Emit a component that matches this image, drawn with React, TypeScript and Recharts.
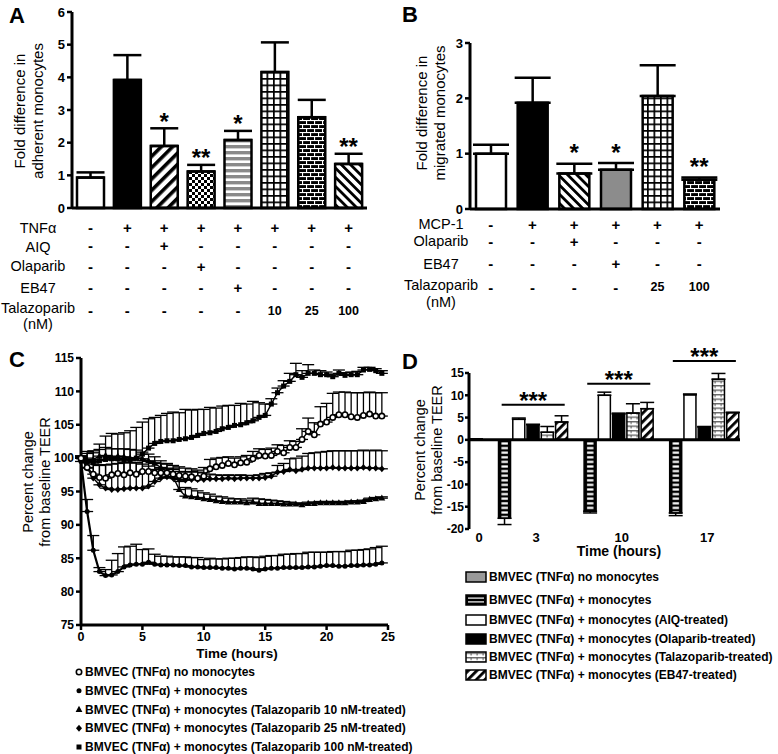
import React from "react";
import {
  ComposedChart,
  LineChart,
  Bar,
  Line,
  XAxis,
  YAxis,
  ErrorBar,
  Cell,
  ReferenceLine,
} from "recharts";

const FONT = "'Liberation Sans', Arial, Helvetica, sans-serif";

// ---------- A: adherent monocytes ----------
const idsA = ["a1", "a2", "a3", "a4", "a5", "a6", "a7", "a8"];
const meanA = [0.93, 3.92, 1.9, 1.12, 2.08, 4.16, 2.78, 1.35];
const semA = [0.16, 0.76, 0.54, 0.2, 0.28, 0.91, 0.53, 0.31];
const sigA = ["", "", "*", "**", "*", "", "", "**"];
const tnfA = ["-", "+", "+", "+", "+", "+", "+", "+"];
const aiqA = ["-", "-", "+", "-", "-", "-", "-", "-"];
const olaA = ["-", "-", "-", "+", "-", "-", "-", "-"];
const eb47A = ["-", "-", "-", "-", "+", "-", "-", "-"];
const talaA = ["-", "-", "-", "-", "-", "10", "25", "100"];
const rowNamesA = ["TNFα", "AIQ", "Olaparib", "EB47", "Talazoparib"];

// ---------- B: migrated monocytes ----------
const idsB = ["b1", "b2", "b3", "b4", "b5", "b6"];
const meanB = [1.0, 1.92, 0.64, 0.71, 2.04, 0.53];
const semB = [0.16, 0.45, 0.18, 0.12, 0.56, 0.04];
const sigB = ["", "", "*", "*", "", "**"];
const mcpB = ["-", "+", "+", "+", "+", "+"];
const olaB = ["-", "-", "+", "-", "-", "-"];
const eb47B = ["-", "-", "-", "+", "-", "-"];
const talaB = ["-", "-", "-", "-", "25", "100"];
const rowNamesB = ["MCP-1", "Olaparib", "EB47", "Talazoparib"];

// ---------- C: TEER time course ----------
const hoursC = [
  0, 0.5, 1, 1.5, 2, 2.5, 3, 3.5, 4, 4.5,
  5, 5.5, 6, 6.5, 7, 7.5, 8, 8.5, 9, 9.5,
  10, 10.5, 11, 11.5, 12, 12.5, 13, 13.5, 14, 14.5,
  15, 15.5, 16, 16.5, 17, 17.5, 18, 18.5, 19, 19.5,
  20, 20.5, 21, 21.5, 22, 22.5, 23, 23.5, 24, 24.5,
];
const noMonoC = [
  100.0, 98.6, 97.6, 97.1, 97.0, 97.5, 97.7, 97.5, 97.8, 97.6,
  98.0, 98.0, 97.8, 97.8, 97.8, 97.6, 97.4, 97.3, 97.2, 97.0,
  97.3, 98.4, 98.7, 98.9, 99.2, 99.0, 99.3, 99.4, 99.9, 100.4,
  100.3, 100.4, 101.0, 100.8, 101.6, 101.6, 102.8, 104.0, 103.5, 105.1,
  105.4, 106.1, 106.5, 106.5, 106.2, 106.1, 106.4, 106.6, 106.3, 106.3,
];
const noMonoSemC = [
  0.3, 1.0, 1.5, 1.8, 2.0, 2.2, 2.0, 1.8, 1.8, 1.7,
  1.6, 1.5, 1.5, 1.4, 1.4, 1.3, 1.3, 1.2, 1.2, 1.2,
  1.3, 1.4, 1.3, 1.2, 1.0, 1.0, 0.9, 1.0, 1.1, 1.0,
  1.0, 1.1, 1.0, 1.1, 1.0, 0.9, 1.6, 2.0, 1.8, 2.6,
  2.8, 3.6, 3.4, 3.4, 3.6, 3.7, 3.4, 3.3, 3.5, 3.5,
];
const plusMonoC = [
  99.5, 92.0, 86.2, 83.0, 82.4, 82.5, 83.0, 83.7, 84.0, 84.1,
  84.1, 84.4, 84.1, 84.0, 84.0, 84.0, 83.9, 83.9, 83.7, 83.7,
  83.6, 83.6, 83.6, 83.5, 83.5, 83.4, 83.5, 83.5, 83.4, 83.2,
  83.4, 83.5, 83.5, 83.6, 83.6, 83.6, 83.6, 83.7, 83.7, 83.8,
  83.9, 83.9, 83.8, 83.8, 83.9, 83.9, 84.0, 84.0, 84.1, 84.3,
];
const plusMonoSemC = [
  0.5, 1.8, 2.2, 0.6, 0.9, 2.2, 2.7, 3.0, 2.8, 3.0,
  2.2, 2.0, 1.5, 1.3, 1.3, 1.2, 1.3, 1.3, 1.4, 1.4,
  1.2, 1.4, 1.3, 1.4, 1.5, 1.6, 1.6, 1.7, 1.8, 1.9,
  1.9, 1.9, 1.9, 2.0, 2.0, 2.1, 2.1, 2.2, 2.2, 2.1,
  2.0, 2.1, 2.2, 2.2, 2.3, 2.3, 2.3, 2.4, 2.5, 2.5,
];
const tala10C = [
  100.0, 99.6, 99.8, 100.3, 100.4, 100.1, 100.3, 100.2, 100.0, 100.0,
  99.9, 99.6, 99.2, 98.6, 98.0, 97.2, 95.3, 94.3, 94.2, 94.1,
  93.9, 93.8, 93.6, 93.5, 93.4, 93.4, 93.4, 93.3, 93.4, 93.2,
  93.2, 93.2, 93.2, 93.1, 93.1, 93.1, 93.0, 93.2, 93.2, 93.3,
  93.3, 93.3, 93.3, 93.3, 93.4, 93.4, 93.5, 93.8, 93.9, 94.0,
];
const tala10SemC = [
  0.3, 1.4, 1.3, 1.0, 1.2, 1.3, 1.1, 1.2, 1.3, 1.2,
  1.0, 1.0, 1.0, 1.0, 1.1, 1.3, 1.2, 1.3, 1.2, 1.0,
  0.9, 0.8, 0.7, 0.7, 0.6, 0.5, 0.5, 0.4, 0.6, 0.7,
  0.6, 0.5, 0.4, 0.4, 0.3, 0.2, 0.2, 0.2, 0.2, 0.2,
  0.2, 0.2, 0.2, 0.2, 0.2, 0.2, 0.2, 0.2, 0.2, 0.2,
];
const tala25C = [
  100.0, 98.5, 97.0, 96.0, 95.5, 95.3, 95.3, 95.4, 95.5, 95.5,
  95.5, 95.8, 96.5, 97.0, 97.2, 97.0, 96.8, 96.7, 96.8, 96.8,
  96.8, 96.9, 96.9, 96.9, 97.0, 96.9, 97.0, 97.0, 97.0, 97.0,
  97.1, 97.3, 97.9, 98.0, 98.3, 98.1, 98.3, 98.5, 98.5, 98.5,
  98.5, 98.6, 98.5, 98.5, 98.5, 98.5, 98.6, 98.5, 98.5, 98.4,
];
const tala25SemC = [
  0.3, 1.5, 2.5, 3.0, 3.5, 3.8, 3.9, 4.0, 3.8, 3.8,
  3.6, 3.0, 1.8, 1.4, 1.2, 1.3, 1.2, 1.2, 1.2, 1.1,
  1.0, 0.7, 0.6, 0.5, 0.5, 0.5, 0.5, 0.4, 0.4, 0.5,
  0.6, 0.5, 1.0, 1.2, 1.6, 1.9, 2.0, 2.2, 2.3, 2.4,
  2.5, 2.5, 2.6, 2.6, 2.6, 2.6, 2.6, 2.6, 2.7, 2.7,
];
const tala100C = [
  100.0, 99.5, 99.3, 99.6, 99.8, 99.9, 99.9, 99.8, 99.8, 100.0,
  100.6, 101.5, 102.2, 102.5, 102.6, 102.6, 102.8, 102.9, 103.1, 103.4,
  103.7, 103.8, 104.0, 104.4, 104.6, 104.9, 105.0, 105.3, 105.6, 106.1,
  106.4, 108.1, 109.8, 110.8, 111.5, 112.5, 112.1, 112.7, 112.7, 112.5,
  112.5, 112.2, 112.7, 112.4, 112.5, 112.5, 113.2, 113.3, 113.1, 112.7,
];
const tala100SemC = [
  0.3, 1.2, 1.5, 2.5, 3.5, 3.8, 3.7, 4.0, 4.3, 4.6,
  4.8, 4.4, 3.9, 3.9, 4.1, 4.3, 4.0, 4.4, 4.1, 3.9,
  3.6, 3.8, 3.5, 3.4, 3.3, 3.0, 3.2, 2.8, 2.9, 2.2,
  1.7, 0.8, 0.7, 0.8, 1.2, 1.7, 1.0, 1.3, 0.5, 0.6,
  0.4, 0.4, 0.5, 0.4, 0.4, 0.5, 0.4, 0.3, 0.3, 0.4,
];

const seriesC = [
  { key: "noMono", name: "BMVEC (TNFα) no monocytes", shape: "open", values: noMonoC, sem: noMonoSemC },
  { key: "plusMono", name: "BMVEC (TNFα) + monocytes", shape: "dot", values: plusMonoC, sem: plusMonoSemC },
  { key: "tala10", name: "BMVEC (TNFα) + monocytes (Talazoparib 10 nM-treated)", shape: "tri", values: tala10C, sem: tala10SemC },
  { key: "tala25", name: "BMVEC (TNFα) + monocytes (Talazoparib 25 nM-treated)", shape: "diamond", values: tala25C, sem: tala25SemC },
  { key: "tala100", name: "BMVEC (TNFα) + monocytes (Talazoparib 100 nM-treated)", shape: "square", values: tala100C, sem: tala100SemC },
];
const drawOrderC = ["tala10", "tala25", "tala100", "plusMono", "noMono"];

// ---------- D: TEER change at time points ----------
const timesD = ["0", "3", "10", "17"];
const noMonoD = [0.2, 0, 0, 0];
const noMonoSemD = [0, 0, 0, 0];
const plusMonoD = [null, -17.6, -16.0, -16.4];
const plusMonoSemD = [null, 1.4, 0.4, 0.6];
const aiqD = [null, 4.6, 10.0, 10.1];
const aiqSemD = [null, 0.3, 0.7, 0.2];
const olaD = [null, 3.4, 5.8, 2.9];
const olaSemD = [null, 0.1, 0.2, 0.1];
const talaD = [null, 1.7, 6.0, 13.6];
const talaSemD = [null, 1.3, 2.1, 1.3];
const eb47D = [null, 4.0, 7.0, 6.1];
const eb47SemD = [null, 1.4, 1.4, 0.1];
const sigLevelD = [null, 7.9, 12.6, 17.7];

const seriesD = [
  { key: "noMono", name: "BMVEC (TNFα) no monocytes", values: noMonoD, sem: noMonoSemD },
  { key: "plusMono", name: "BMVEC (TNFα) + monocytes", values: plusMonoD, sem: plusMonoSemD },
  { key: "aiq", name: "BMVEC (TNFα) + monocytes (AIQ-treated)", values: aiqD, sem: aiqSemD },
  { key: "ola", name: "BMVEC (TNFα) + monocytes (Olaparib-treated)", values: olaD, sem: olaSemD },
  { key: "tala", name: "BMVEC (TNFα) + monocytes (Talazoparib-treated)", values: talaD, sem: talaSemD },
  { key: "eb47", name: "BMVEC (TNFα) + monocytes (EB47-treated)", values: eb47D, sem: eb47SemD },
];

// styles
const fillsA = ["#fff", "#000", "url(#diagUp)", "url(#checker)", "url(#hstripe)", "url(#grid)", "url(#brick)", "url(#diagDown)"];
const fillsB = ["#fff", "#000", "url(#diagDown)", "#8c8c8c", "url(#grid)", "url(#brick)"];
const fillD: Record<string, string> = {
  noMono: "#999",
  plusMono: "url(#ladder)",
  aiq: "#fff",
  ola: "#000",
  tala: "url(#talaD)",
  eb47: "url(#diagUpD)",
};

// D chart geometry (plot area inside its svg)
const D_W = 378;
const D_H = 210;
const D_MARGIN = { top: 33, right: 38, bottom: 1, left: 39 };
const D_YW = 30;

// build D slots: each drawn bar gets its own category slot
const slotsD: any[] = [];
const labelSlotD: Record<string, string> = {};
const bracketsD: any[] = [];
timesD.forEach((t, ti) => {
  const start = slotsD.length;
  seriesD.forEach((s) => {
    const v = s.values[ti];
    if (v === null) return;
    const e = s.sem[ti] ?? 0;
    slotsD.push({ slot: `s${slotsD.length}`, value: v, err: v < 0 ? [e, 0] : [0, e], key: s.key });
  });
  const n = slotsD.length - start;
  labelSlotD[`s${start + (n > 1 ? Math.floor(n / 2) : 0)}`] = t;
  if (sigLevelD[ti] !== null) {
    bracketsD.push({ from: `s${start + 1}`, to: `s${slotsD.length - 1}`, y: sigLevelD[ti] });
  }
});
const D_SLOT = (D_W - D_MARGIN.left - D_YW - D_MARGIN.right) / slotsD.length;

const tickStyle = { fill: "#000", fontSize: 12.5, fontWeight: "bold", fontFamily: FONT };
const axisLine = { stroke: "#000", strokeWidth: 3 };
const tickLine = { stroke: "#000", strokeWidth: 2.5 };

function PatternDefs() {
  return (
    <svg width={0} height={0} style={{ position: "absolute" }}>
      <defs>
        <pattern id="diagUp" width="8" height="8" patternUnits="userSpaceOnUse" patternTransform="rotate(45)">
          <rect width="8" height="8" fill="#fff" />
          <rect width="3.6" height="8" fill="#000" />
        </pattern>
        <pattern id="diagDown" width="6.5" height="6.5" patternUnits="userSpaceOnUse" patternTransform="rotate(-45)">
          <rect width="6.5" height="6.5" fill="#fff" />
          <rect width="2.8" height="6.5" fill="#000" />
        </pattern>
        <pattern id="checker" width="6" height="6" patternUnits="userSpaceOnUse">
          <rect width="6" height="6" fill="#fff" />
          <rect width="3" height="3" fill="#000" />
          <rect x="3" y="3" width="3" height="3" fill="#000" />
        </pattern>
        <pattern id="hstripe" width="6" height="6" patternUnits="userSpaceOnUse">
          <rect width="6" height="6" fill="#fff" />
          <rect y="1" width="6" height="3.4" fill="#8a8a8a" />
        </pattern>
        <pattern id="grid" width="6.5" height="6.5" patternUnits="userSpaceOnUse">
          <rect width="6.5" height="6.5" fill="#fff" />
          <rect width="6.5" height="1.7" fill="#000" />
          <rect width="1.7" height="6.5" fill="#000" />
        </pattern>
        <pattern id="brick" width="8" height="8" patternUnits="userSpaceOnUse">
          <rect width="8" height="8" fill="#000" />
          <rect width="8" height="1.1" fill="#fff" />
          <rect y="4" width="8" height="1.1" fill="#fff" />
          <rect x="2" width="1.1" height="4" fill="#fff" />
          <rect x="6" y="4" width="1.1" height="4" fill="#fff" />
        </pattern>
        <pattern id="ladder" x={D_MARGIN.left + D_YW} y="0" width={D_SLOT} height="4.6" patternUnits="userSpaceOnUse">
          <rect width={D_SLOT} height="4.6" fill="#000" />
          <rect x={D_SLOT / 2 - 3.2} y="1.2" width="6.4" height="2.2" fill="#fff" />
        </pattern>
        <pattern id="talaD" width="6" height="4.5" patternUnits="userSpaceOnUse">
          <rect width="6" height="4.5" fill="#fff" />
          <rect width="6" height="1.4" fill="#666" />
          <rect x="2.5" width="1.2" height="3" fill="#666" />
        </pattern>
        <pattern id="diagUpD" width="6" height="6" patternUnits="userSpaceOnUse" patternTransform="rotate(45)">
          <rect width="6" height="6" fill="#fff" />
          <rect width="2.8" height="6" fill="#000" />
        </pattern>
      </defs>
    </svg>
  );
}

function TableTick(props: any) {
  const { x, y, payload, ids, table, offsets } = props;
  const col = ids.indexOf(payload.value);
  return (
    <g>
      {table.map((row: string[], r: number) => {
        const v = row[col];
        const num = /\d/.test(v);
        return (
          <text
            key={r}
            x={x}
            y={y + offsets[r]}
            textAnchor="middle"
            dominantBaseline="central"
            fontFamily={FONT}
            fontWeight="bold"
            fontSize={num ? 12.5 : 15}
            fill="#000"
          >
            {v}
          </text>
        );
      })}
    </g>
  );
}

function BarPanel(props: any) {
  const { ids, mean, sem, sig, fills, table, offsets, width, height, margin, yMax, yTicks, barSize, capWidth, starShift } = props;
  const data = ids.map((id: string, i: number) => ({
    id,
    mean: mean[i],
    err: [0, sem[i]],
    sigTop: sig[i] ? mean[i] + sem[i] : null,
  }));
  const starDot = (p: any) => {
    const s = sig[p.index];
    if (!s || p.cy == null || isNaN(p.cy)) return <g key={`st${p.index}`} />;
    return (
      <text key={`st${p.index}`} x={p.cx} y={p.cy + starShift} textAnchor="middle" fontFamily={FONT} fontWeight="bold" fontSize={24} fill="#000">
        {s}
      </text>
    );
  };
  return (
    <ComposedChart width={width} height={height} data={data} margin={margin}>
      <XAxis
        dataKey="id"
        interval={0}
        tickLine={false}
        tickSize={0}
        tickMargin={0}
        height={120}
        axisLine={axisLine}
        tick={(p: any) => <TableTick {...p} ids={ids} table={table} offsets={offsets} />}
      />
      <YAxis
        width={30}
        domain={[0, yMax]}
        ticks={yTicks}
        axisLine={axisLine}
        tickLine={tickLine}
        tickSize={5}
        tick={{ ...tickStyle, fontSize: 13 }}
      />
      <Bar dataKey="mean" barSize={barSize} stroke="#000" strokeWidth={2.5} isAnimationActive={false}>
        {data.map((d: any, i: number) => (
          <Cell key={d.id} fill={fills[i]} />
        ))}
        <ErrorBar dataKey="err" width={capWidth} stroke="#000" strokeWidth={2.5} direction="y" />
      </Bar>
      <Line dataKey="sigTop" stroke="none" dot={starDot} activeDot={false} isAnimationActive={false} />
    </ComposedChart>
  );
}

function Marker({ shape, cx, cy }: any) {
  if (cx == null || cy == null) return <g />;
  switch (shape) {
    case "open":
      return <circle cx={cx} cy={cy} r={2.7} fill="#fff" stroke="#000" strokeWidth={1.6} />;
    case "dot":
      return <circle cx={cx} cy={cy} r={2.5} fill="#000" />;
    case "tri":
      return <polygon points={`${cx},${cy - 3.7} ${cx + 3.4},${cy + 2.4} ${cx - 3.4},${cy + 2.4}`} fill="#000" />;
    case "diamond":
      return <polygon points={`${cx},${cy - 3.4} ${cx + 3},${cy} ${cx},${cy + 3.4} ${cx - 3},${cy}`} fill="#000" />;
    default:
      return <rect x={cx - 2.5} y={cy - 2.5} width={5} height={5} fill="#000" />;
  }
}

function PanelC() {
  const rows = hoursC.map((h, i) => {
    const r: any = { h };
    seriesC.forEach((s) => {
      r[s.key] = s.values[i];
      r[s.key + "Err"] = [0, s.sem[i]];
    });
    return r;
  });
  return (
    <LineChart width={420} height={330} data={rows} margin={{ top: 18, right: 32, bottom: 15, left: 46 }}>
      <XAxis
        dataKey="h"
        type="number"
        domain={[0, 25]}
        ticks={[0, 5, 10, 15, 20, 25]}
        axisLine={axisLine}
        tickLine={tickLine}
        tickSize={5}
        height={30}
        tick={tickStyle}
      />
      <YAxis
        width={35}
        domain={[75, 115]}
        ticks={[75, 80, 85, 90, 95, 100, 105, 110, 115]}
        axisLine={axisLine}
        tickLine={tickLine}
        tickSize={5}
        tick={{ ...tickStyle, fontSize: 12 }}
      />
      {drawOrderC.map((k) => {
        const s = seriesC.find((c) => c.key === k)!;
        return (
          <Line
            key={k}
            dataKey={k}
            type="linear"
            stroke="#000"
            strokeWidth={k === "plusMono" ? 2.2 : 1.4}
            isAnimationActive={false}
            activeDot={false}
            dot={(p: any) => <Marker key={`${k}-${p.index}`} shape={s.shape} cx={p.cx} cy={p.cy} />}
          >
            <ErrorBar dataKey={k + "Err"} width={6} stroke="#000" strokeWidth={1.3} direction="y" />
          </Line>
        );
      })}
    </LineChart>
  );
}

function PanelD() {
  const dTick = (p: any) => {
    const label = labelSlotD[p.payload.value];
    if (!label) return <g />;
    return (
      <text x={p.x + 3} y={p.y + 8} textAnchor="middle" dominantBaseline="central" fontFamily={FONT} fontWeight="bold" fontSize={13} fill="#000">
        {label}
      </text>
    );
  };
  return (
    <ComposedChart width={D_W} height={D_H} data={slotsD} margin={D_MARGIN} barCategoryGap={0}>
      <XAxis dataKey="slot" interval={0} axisLine={false} tickLine={false} tickSize={0} tickMargin={0} height={20} tick={dTick} />
      <YAxis
        width={D_YW}
        domain={[-20, 15]}
        ticks={[-20, -15, -10, -5, 0, 5, 10, 15]}
        axisLine={axisLine}
        tickLine={tickLine}
        tickSize={4}
        tickMargin={1}
        tick={{ ...tickStyle, fontSize: 12 }}
      />
      <Bar dataKey="value" barSize={12} stroke="#000" strokeWidth={1.5} isAnimationActive={false}>
        {slotsD.map((s) => (
          <Cell key={s.slot} fill={fillD[s.key]} />
        ))}
        <ErrorBar dataKey="err" width={7} stroke="#000" strokeWidth={1.5} direction="y" />
      </Bar>
      <ReferenceLine y={0} stroke="#000" strokeWidth={3} />
      {bracketsD.map((b) => (
        <ReferenceLine
          key={b.from}
          ifOverflow="visible"
          segment={[
            { x: b.from, y: b.y },
            { x: b.to, y: b.y },
          ]}
          shape={(p: any) => (
            <g>
              <line x1={p.x1 - 3} y1={p.y1} x2={p.x2 + 3} y2={p.y2} stroke="#000" strokeWidth={2} />
              <text x={(p.x1 + p.x2) / 2} y={p.y1 + 4.5} textAnchor="middle" fontFamily={FONT} fontWeight="bold" fontSize={24} fill="#000">
                ***
              </text>
            </g>
          )}
        />
      ))}
    </ComposedChart>
  );
}

function RotLabel({ x, y, children, size = 15 }: any) {
  return (
    <text x={x} y={y} transform={`rotate(-90 ${x} ${y})`} textAnchor="middle" dominantBaseline="central" fontFamily={FONT} fontSize={size} fill="#000">
      {children}
    </text>
  );
}

const legendRowsD = [577, 600, 620, 639, 657, 675];

function Overlay() {
  const t = (x: number, y: number, s: string, size: number, bold = false, anchor = "middle") => (
    <text x={x} y={y} textAnchor={anchor} dominantBaseline="central" fontFamily={FONT} fontSize={size} fontWeight={bold ? "bold" : "normal"} fill="#000">
      {s}
    </text>
  );
  const rowYA = [228, 246.5, 266, 288, 308];
  const rowYB = [224, 241, 264, 285];
  return (
    <svg width={778} height={754} style={{ position: "absolute", left: 0, top: 0, pointerEvents: "none" }}>
      <text x={9} y={23} fontFamily={FONT} fontSize={22} fontWeight="bold">A</text>
      <text x={402} y={22} fontFamily={FONT} fontSize={22} fontWeight="bold">B</text>
      <text x={9} y={367} fontFamily={FONT} fontSize={22} fontWeight="bold">C</text>
      <text x={402} y={369} fontFamily={FONT} fontSize={22} fontWeight="bold">D</text>

      <RotLabel x={19} y={111}>Fold difference in</RotLabel>
      <RotLabel x={37} y={111}>adherent monocytes</RotLabel>
      <RotLabel x={421} y={113}>Fold difference in</RotLabel>
      <RotLabel x={439} y={113}>migrated monocytes</RotLabel>
      <RotLabel x={28} y={482} size={14.5}>Percent change</RotLabel>
      <RotLabel x={45} y={482} size={14.5}>from baseline TEER</RotLabel>
      <RotLabel x={420} y={450} size={14.5}>Percent change</RotLabel>
      <RotLabel x={437} y={450} size={14.5}>from baseline TEER</RotLabel>

      {rowNamesA.map((n, i) => <g key={n}>{t(38, rowYA[i], n, 14.5)}</g>)}
      {t(38, 324, "(nM)", 14.5)}
      {rowNamesB.map((n, i) => <g key={n}>{t(441, rowYB[i], n, 14.5)}</g>)}
      {t(441, 302, "(nM)", 14.5)}

      {t(237, 653, "Time (hours)", 13.5, true)}
      {t(619, 551, "Time (hours)", 14, true)}

      {seriesC.map((s, i) => (
        <g key={s.key}>
          <Marker shape={s.shape} cx={79} cy={672 + i * 18.75} />
          {t(85, 672 + i * 18.75, s.name, 12, true, "start")}
        </g>
      ))}

      {seriesD.map((s, i) => {
        const y = legendRowsD[i];
        return (
          <g key={s.key}>
            {s.key === "plusMono" ? (
              <g>
                <rect x={466} y={y - 5} width={20} height={10} fill="#000" stroke="#000" strokeWidth={1.5} />
                <rect x={468} y={y - 2.5} width={16} height={1.2} fill="#fff" />
                <rect x={468} y={y + 1.3} width={16} height={1.2} fill="#fff" />
              </g>
            ) : (
              <rect x={466} y={y - 5} width={20} height={10} fill={fillD[s.key]} stroke="#000" strokeWidth={1.5} />
            )}
            {t(489, y, s.name, 12, true, "start")}
          </g>
        );
      })}
    </svg>
  );
}

export default function App() {
  const tableA = [tnfA, aiqA, olaA, eb47A, talaA];
  const tableB = [mcpB, olaB, eb47B, talaB];
  return (
    <div style={{ position: "absolute", left: 0, top: 0, width: 778, height: 754, background: "#fff", overflow: "hidden", fontFamily: FONT }}>
      <PatternDefs />
      <div style={{ position: "absolute", left: 0, top: 0 }}>
        <BarPanel
          ids={idsA}
          mean={meanA}
          sem={semA}
          sig={sigA}
          fills={fillsA}
          table={tableA}
          offsets={[19.5, 37.5, 58, 79, 102.5]}
          width={380}
          height={340}
          margin={{ top: 12, right: 13, bottom: 12, left: 42 }}
          yMax={6}
          yTicks={[0, 1, 2, 3, 4, 5, 6]}
          barSize={27}
          capWidth={14}
          starShift={1.5}
        />
      </div>
      <div style={{ position: "absolute", left: 400, top: 0 }}>
        <BarPanel
          ids={idsB}
          mean={meanB}
          sem={semB}
          sig={sigB}
          fills={fillsB}
          table={tableB}
          offsets={[15, 32, 54, 78]}
          width={330}
          height={340}
          margin={{ top: 43, right: 10, bottom: 11, left: 40 }}
          yMax={3}
          yTicks={[0, 1, 2, 3]}
          barSize={30}
          capWidth={18}
          starShift={-2.5}
        />
      </div>
      <div style={{ position: "absolute", left: 0, top: 340 }}>
        <PanelC />
      </div>
      <div style={{ position: "absolute", left: 400, top: 340 }}>
        <PanelD />
      </div>
      <Overlay />
    </div>
  );
}
